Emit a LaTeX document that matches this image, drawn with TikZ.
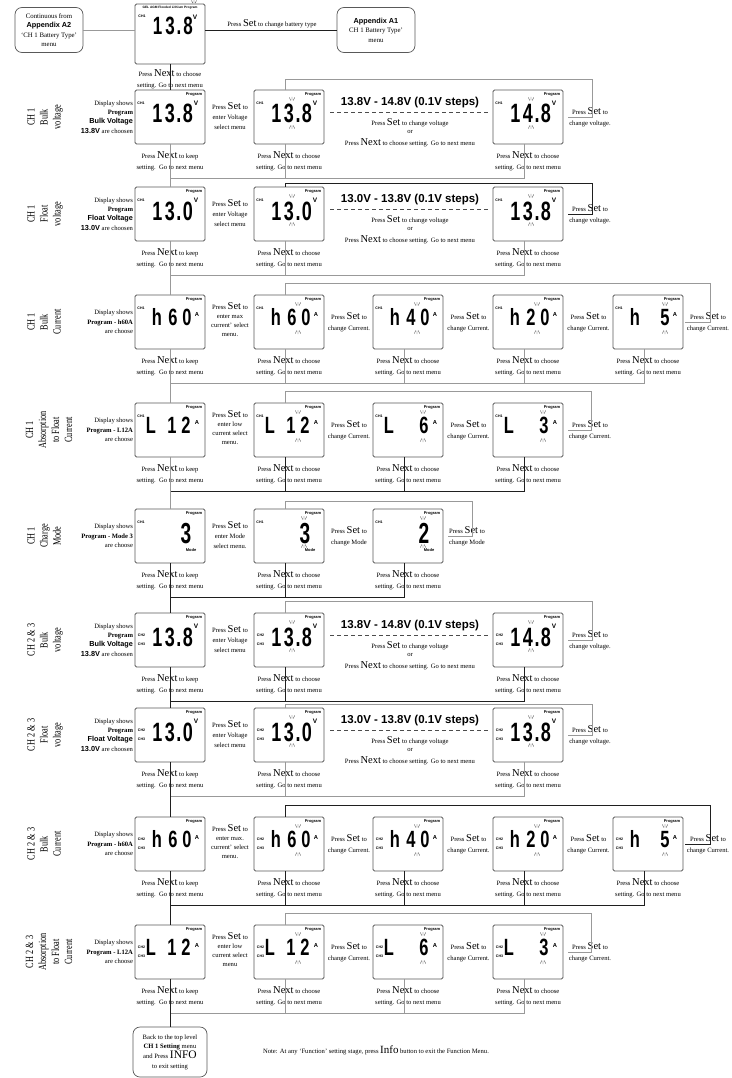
\documentclass[tikz,border=0pt]{standalone}
\usepackage{fontspec}
\usepackage{graphicx}
\setmainfont{Liberation Serif}
\newfontfamily\sansf{Liberation Sans}
\newcount\nodecnt
\newcommand\nn{\global\advance\nodecnt by 1\relax}
\newcommand\smf{\fontsize{6.6}{11}\selectfont}
\newcommand\bN{{\fontsize{10.5}{10}\selectfont Next}}
\newcommand\bS{{\fontsize{10.5}{10}\selectfont Set}}
\newcommand\sbb[1]{{\sansf\bfseries\fontsize{7.3}{9}\selectfont #1}}
\newcommand\choosetxt{Press \bN{} to choose\\setting. Go to next menu}
\newcommand\keeptxt{Press \bN{} to keep\\setting.\ \ Go to next menu}
\tikzset{
  lcd/.style={draw=black!65, line width=0.75pt, rounded corners=1.5pt, minimum width=70pt, minimum height=54pt, inner sep=0pt, outer sep=0pt},
  rbox/.style={draw=black!65, line width=0.7pt, rounded corners=7pt, inner sep=0pt, outer sep=0pt, align=center},
  tx/.style={inner sep=0pt, outer sep=0pt, align=center, font=\smf},
  tx3/.style={inner sep=0pt, outer sep=0pt, align=center, font=\fontsize{6.6}{10}\selectfont},
  tx4/.style={inner sep=0pt, outer sep=0pt, align=center, font=\fontsize{6.6}{9}\selectfont},
  desc/.style={inner sep=0pt, outer sep=0pt, align=right, anchor=east, font=\fontsize{6.6}{9.3}\selectfont},
  lbl/.style={inner sep=0pt, outer sep=0pt, rotate=90, font=\fontsize{11}{13}\selectfont},
  rng/.style={inner sep=0pt, outer sep=0pt, font=\sansf\bfseries\fontsize{11.5}{12}\selectfont},
  dg/.style={inner sep=0pt, outer sep=0pt, anchor=base},
  tiny/.style={inner sep=0pt, outer sep=0pt, font=\sansf\bfseries\fontsize{3.6}{4}\selectfont},
  unit/.style={inner sep=0pt, outer sep=0pt, font=\sansf\bfseries\fontsize{6.5}{6}\selectfont},
  mk/.style={line width=0.35pt, draw=black!80},
  cl/.style={line width=0.7pt},
  dsh/.style={draw=black!70, line width=0.6pt, dash pattern=on 4pt off 3pt},
}
% LCD helpers (local coordinates, origin = top-left of the box)
\newcommand\lcd[4]{\node[lcd] (#1) at (#2+35,#3+27) {};\begin{scope}[shift={(#2,#3)}]#4\end{scope}}
\newcommand\prog{\nn\node[tiny,font=\sansf\bfseries\fontsize{4}{4}\selectfont] (t\the\nodecnt) at (59,5) {Program};}
\newcommand\chone{\nn\node[tiny] (t\the\nodecnt) at (6,13) {CH1};}
\newcommand\chtt{\nn\node[tiny] (t\the\nodecnt) at (6.5,22) {CH2};\nn\node[tiny] (t\the\nodecnt) at (6.5,31) {CH3};}
\newcommand\vd[2]{\nn\node[dg,font=\sansf\bfseries\fontsize{26.5}{26.5}\selectfont] (t\the\nodecnt) at (#1,33) {\scalebox{0.68}[1]{#2}};}
\newcommand\cd[2]{\nn\node[dg,font=\sansf\bfseries\fontsize{23.5}{24}\selectfont] (t\the\nodecnt) at (#1,30) {\scalebox{0.7}[1]{#2}};}
\newcommand\md[2]{\nn\node[dg,font=\sansf\bfseries\fontsize{29}{29}\selectfont] (t\the\nodecnt) at (#1,34) {\scalebox{0.66}[1]{#2}};}
\newcommand\uV{\nn\node[unit] (t\the\nodecnt) at (61,13) {V};}
\newcommand\uA{\nn\node[unit,font=\sansf\bfseries\fontsize{5.8}{6}\selectfont] (t\the\nodecnt) at (62,20) {A};}
\newcommand\blink[1]{\draw[mk] (#1-2.6,7.5) -- (#1-1.3,10.5) (#1,7) -- (#1,10.5) (#1+2.6,7.5) -- (#1+1.3,10.5) (#1-2.6,38.5) -- (#1-1.3,35.5) (#1,39) -- (#1,35.5) (#1+2.6,38.5) -- (#1+1.3,35.5);}
\newcommand\boxV[7]{\lcd{#1}{#2}{#3}{\prog#4\vd{22.5}{1}\vd{35}{#5}\vd{44}{.}\vd{53}{#6}\uV#7}}
\newcommand\boxH[7]{\lcd{#1}{#2}{#3}{\prog#4\cd{22}{h}\cd{38}{#5}\cd{52}{#6}\uA#7}}
\newcommand\boxL[7]{\lcd{#1}{#2}{#3}{\prog#4\cd{16}{L}\cd{37}{#5}\cd{51}{#6}\uA#7}}
\newcommand\boxM[6]{\lcd{#1}{#2}{#3}{\prog#4\md{51}{#5}\nn\node[tiny,font=\sansf\bfseries\fontsize{4}{4}\selectfont] (t\the\nodecnt) at (56,41) {Mode};#6}}
% row pieces
\newcommand\RowHead{%
 \node[lbl] (\rwid l) at (\rwLX,\rwT+27) {\scalebox{0.75}[1]{\begin{tabular}{@{}c@{}}\rwlab\end{tabular}}};
 \node[desc] (\rwid d) at (133,\rwT+27) {\rwdsc};}
\newcommand\VoltRow{%
 \RowHead
 \boxV{\rwid b1}{135}{\rwT}{\rwch}{\rwda}{\rwdb}{}
 \node[tx3] (\rwid e) at (230,\rwT+26) {Press \bS{} to\\enter Voltage\\select menu};
 \boxV{\rwid b2}{254}{\rwT}{\rwch}{\rwda}{\rwdb}{\blink{38}}
 \node[rng] (\rwid r) at (410,\rwT+13) {\rwrng};
 \coordinate (\rwid dl) at (330,\rwT+22); \coordinate (\rwid dr) at (488,\rwT+22);
 \draw[dsh] (\rwid dl) -- (\rwid dr);
 \node[tx] (\rwid p) at (410,\rwT+33) {Press \bS{} to change voltage};
 \node[tx] (\rwid o) at (410,\rwT+42) {or};
 \node[tx] (\rwid q) at (410,\rwT+53) {Press \bN{} to choose setting. Go to next menu};
 \boxV{\rwid b4}{493}{\rwT}{\rwch}{\rwdc}{\rwdd}{\blink{38}}
 \node[tx] (\rwid s) at (590,\rwT+27) {Press \bS{} to\\change voltage.};
 \node[tx] (\rwid k1) at (170,\rwT+71) {\keeptxt};
 \node[tx] (\rwid k2) at (289,\rwT+71) {\choosetxt};
 \node[tx] (\rwid k4) at (528,\rwT+71) {\choosetxt};
 \coordinate (\rwid m) at (170,\rwT+88);
 \draw[cl,draw=\rwmc] ([xshift=-4pt]\rwid b4.south) |- (\rwid m);
 \draw[cl,draw=\rwmc] ([xshift=-4pt]\rwid b2.south) -- ([xshift=-4pt]\rwid b2.south |- \rwid m);
 \coordinate (\rwid la) at (568,\rwT+27); \coordinate (\rwid lb) at (592,\rwLY);
 \draw[cl,draw=\rwlc] (\rwid la) -| (\rwid lb) -| ([xshift=-4pt]\rwid b2.north);}
\newcommand\CurRow{%
 \RowHead
 \boxH{\rwid b1}{135}{\rwT}{\rwch}{6}{0}{}
 \node[tx4] (\rwid e) at (230,\rwT+25) {Press \bS{} to\\enter max\rwdot\\current' select\\menu.};
 \boxH{\rwid b2}{254}{\rwT}{\rwch}{6}{0}{\blink{44}}
 \node[tx] (\rwid s2) at (349,\rwT+27) {Press \bS{} to\\change Current.};
 \boxH{\rwid b3}{373}{\rwT}{\rwch}{4}{0}{\blink{44}}
 \node[tx] (\rwid s3) at (468.5,\rwT+27) {Press \bS{} to\\change Current.};
 \boxH{\rwid b4}{493}{\rwT}{\rwch}{2}{0}{\blink{44}}
 \node[tx] (\rwid s4) at (588.5,\rwT+27) {Press \bS{} to\\change Current.};
 \boxH{\rwid b5}{613}{\rwT}{\rwch}{}{5}{\blink{52}}
 \node[tx] (\rwid s5) at (708,\rwT+27) {Press \bS{} to\\change Current.};
 \node[tx] (\rwid k1) at (170,\rwT+71) {\keeptxt};
 \node[tx] (\rwid k2) at (289,\rwT+71) {\choosetxt};
 \node[tx] (\rwid k3) at (408,\rwT+71) {\choosetxt};
 \node[tx] (\rwid k4) at (528,\rwT+71) {\choosetxt};
 \node[tx] (\rwid k5) at (648,\rwT+71) {\choosetxt};
 \coordinate (\rwid m) at (170,\rwT+88);
 \draw[cl,draw=\rwmc] ([xshift=-4pt]\rwid b5.south) |- (\rwid m);
 \foreach \i in {2,3,4}{\draw[cl,draw=\rwmc] ([xshift=-4pt]\rwid b\i.south) -- ([xshift=-4pt]\rwid b\i.south |- \rwid m);}
 \coordinate (\rwid la) at (685,\rwT+27); \coordinate (\rwid lb) at (710,\rwLY);
 \draw[cl,draw=\rwlc] (\rwid la) -| (\rwid lb) -| ([xshift=-4pt]\rwid b2.north);}
\newcommand\LowRow{%
 \RowHead
 \boxL{\rwid b1}{135}{\rwT}{\rwch}{1}{2}{}
 \node[tx4] (\rwid e) at (230,\rwT+25) {Press \bS{} to\\enter low\\current select\\menu\rwdot};
 \boxL{\rwid b2}{254}{\rwT}{\rwch}{1}{2}{\blink{44}}
 \node[tx] (\rwid s2) at (349,\rwT+27) {Press \bS{} to\\change Current.};
 \boxL{\rwid b3}{373}{\rwT}{\rwch}{}{6}{\blink{50}}
 \node[tx] (\rwid s3) at (468.5,\rwT+27) {Press \bS{} to\\change Current.};
 \boxL{\rwid b4}{493}{\rwT}{\rwch}{}{3}{\blink{50}}
 \node[tx] (\rwid s4) at (590,\rwT+27) {Press \bS{} to\\change Current.};
 \node[tx] (\rwid k1) at (170,\rwT+71) {\keeptxt};
 \node[tx] (\rwid k2) at (289,\rwT+71) {\choosetxt};
 \node[tx] (\rwid k3) at (408,\rwT+71) {\choosetxt};
 \node[tx] (\rwid k4) at (528,\rwT+71) {\choosetxt};
 \coordinate (\rwid m) at (170,\rwT+88);
 \draw[cl,draw=\rwmc] ([xshift=-4pt]\rwid b4.south) |- (\rwid m);
 \foreach \i in {2,3}{\draw[cl,draw=\rwmc] ([xshift=-4pt]\rwid b\i.south) -- ([xshift=-4pt]\rwid b\i.south |- \rwid m);}
 \coordinate (\rwid la) at (568,\rwT+27); \coordinate (\rwid lb) at (591,\rwLY);
 \draw[cl,draw=\rwlc] (\rwid la) -| (\rwid lb) -| ([xshift=-4pt]\rwid b2.north);}
\def\G{black!40}
\def\K{black!88}
\begin{document}
\begin{tikzpicture}[x=1pt,y=-1pt]
\useasboundingbox (0,0) rectangle (731,1078);
\fill[white] (0,0) rectangle (731,1078);
% ---------- top ----------
\node[rbox, minimum width=68pt, minimum height=45pt, font=\fontsize{6.8}{9.5}\selectfont] (a2) at (49,30) {Continuous from\\\sbb{Appendix A2}\\`CH 1 Battery Type'\\menu};
\node[lcd, minimum height=60pt] (top) at (170,34) {};
\begin{scope}[shift={(135,4)}]
 \nn\node[tiny,font=\sansf\bfseries\fontsize{3.2}{3.2}\selectfont] (t\the\nodecnt) at (35,3.5) {GEL AGM Flooded Lithium Program};
 \nn\node[tiny] (t\the\nodecnt) at (7,12) {CH1};
 \nn\node[dg,font=\sansf\bfseries\fontsize{25}{25}\selectfont] (t\the\nodecnt) at (22.5,31) {\scalebox{0.68}[1]{1}};
 \nn\node[dg,font=\sansf\bfseries\fontsize{25}{25}\selectfont] (t\the\nodecnt) at (35,31) {\scalebox{0.68}[1]{3}};
 \nn\node[dg,font=\sansf\bfseries\fontsize{25}{25}\selectfont] (t\the\nodecnt) at (44,31) {\scalebox{0.68}[1]{.}};
 \nn\node[dg,font=\sansf\bfseries\fontsize{25}{25}\selectfont] (t\the\nodecnt) at (53,31) {\scalebox{0.68}[1]{8}};
 \nn\node[unit] (t\the\nodecnt) at (60,13) {V};
 \draw[mk] (56.5,-3.5) -- (57.8,-0.8) (59,-4) -- (59,-0.8) (61.5,-3.5) -- (60.2,-0.8);
\end{scope}
\node[rbox, minimum width=78pt, minimum height=45pt, font=\fontsize{6.8}{9.5}\selectfont] (a1) at (376,30) {\sbb{Appendix A1}\\CH 1 Battery Type'\\menu};
\node[tx] (bt) at (272,24) {Press \bS{} to change battery type};
\draw[cl,draw=\G] (a2.east) -- (a2.east -| top.west);
\draw[cl,draw=\K] (a1.west -| top.east) -- (a1.west);
\node[tx] (t0k) at (170,79) {\choosetxt};
% ---------- row 1 ----------
\def\rwid{r1}\def\rwT{90}\def\rwLX{45}\def\rwch{\chone}
\def\rwlab{CH 1\\Bulk\\voltage}
\def\rwdsc{Display shows\\\textbf{Program}\\\sbb{Bulk Voltage}\\\sbb{13.8V} are choosen}
\def\rwda{3}\def\rwdb{8}\def\rwdc{4}\def\rwdd{8}
\def\rwrng{13.8V - 14.8V (0.1V steps)}
\def\rwLY{79}\def\rwlc{\G}\def\rwmc{\G}
\VoltRow
% ---------- row 2 ----------
\def\rwid{r2}\def\rwT{187}
\def\rwlab{CH 1\\Float\\voltage}
\def\rwdsc{Display shows\\\textbf{Program}\\\sbb{Float Voltage}\\\sbb{13.0V} are choosen}
\def\rwda{3}\def\rwdb{0}\def\rwdc{3}\def\rwdd{8}
\def\rwrng{13.0V - 13.8V (0.1V steps)}
\def\rwLY{183}\def\rwlc{\K}\def\rwmc{\G}
\VoltRow
% ---------- row 3 ----------
\def\rwid{r3}\def\rwT{295}
\def\rwlab{CH 1\\Bulk\\Current}
\def\rwdsc{Display shows\\\textbf{Program - h60A}\\are choose}
\def\rwdot{}
\def\rwLY{283}\def\rwlc{\G}\def\rwmc{\G}
\CurRow
% ---------- row 4 ----------
\def\rwid{r4}\def\rwT{403}\def\rwLX{50}
\def\rwlab{CH 1\\Absorption\\to Float\\Current}
\def\rwdsc{Display shows\\\textbf{Program - L12A}\\are choose}
\def\rwdot{.}
\def\rwLY{391}\def\rwlc{\G}\def\rwmc{\K}
\LowRow
% ---------- row 5 (charge mode) ----------
\node[lbl] (r5l) at (45,536) {\scalebox{0.75}[1]{\begin{tabular}{@{}c@{}}CH 1\\Charge\\Mode\end{tabular}}};
\node[desc] (r5d) at (133,536) {Display shows\\\textbf{Program - Mode 3}\\are choose};
\boxM{r5b1}{135}{509}{\chone}{3}{}
\node[tx3] (r5e) at (230,535) {Press \bS{} to\\enter Mode\\select menu.};
\boxM{r5b2}{254}{509}{\chone}{3}{\blink{50}}
\node[tx] (r5s2) at (349,536) {Press \bS{} to\\change Mode};
\boxM{r5b3}{373}{509}{\chone}{2}{\blink{50}}
\node[tx] (r5s3) at (467,536) {Press \bS{} to\\change Mode};
\node[tx] (r5k1) at (170,580) {\keeptxt};
\node[tx] (r5k2) at (289,580) {\choosetxt};
\node[tx] (r5k3) at (408,580) {\choosetxt};
\coordinate (r5m) at (170,597);
\draw[cl,draw=\K] ([xshift=-4pt]r5b3.south) |- (r5m);
\draw[cl,draw=\K] ([xshift=-4pt]r5b2.south) -- ([xshift=-4pt]r5b2.south |- r5m);
\coordinate (r5la) at (448,536); \coordinate (r5lb) at (472,501);
\draw[cl,draw=\G] (r5la) -| (r5lb) -| ([xshift=-4pt]r5b2.north);
% ---------- row 6 ----------
\def\rwid{r6}\def\rwT{613}\def\rwLX{45}\def\rwch{\chtt}
\def\rwlab{CH 2 \& 3\\Bulk\\voltage}
\def\rwdsc{Display shows\\\textbf{Program}\\\sbb{Bulk Voltage}\\\sbb{13.8V} are choosen}
\def\rwda{3}\def\rwdb{8}\def\rwdc{4}\def\rwdd{8}
\def\rwrng{13.8V - 14.8V (0.1V steps)}
\def\rwLY{601}\def\rwlc{\G}\def\rwmc{\K}
\VoltRow
% ---------- row 7 ----------
\def\rwid{r7}\def\rwT{708}
\def\rwlab{CH 2 \& 3\\Float\\voltage}
\def\rwdsc{Display shows\\\textbf{Program}\\\sbb{Float Voltage}\\\sbb{13.0V} are choosen}
\def\rwda{3}\def\rwdb{0}\def\rwdc{3}\def\rwdd{8}
\def\rwrng{13.0V - 13.8V (0.1V steps)}
\def\rwLY{704}\def\rwlc{\G}\def\rwmc{\G}
\VoltRow
% ---------- row 8 ----------
\def\rwid{r8}\def\rwT{817}
\def\rwlab{CH 2 \& 3\\Bulk\\Current}
\def\rwdsc{Display shows\\\textbf{Program - h60A}\\are choose}
\def\rwdot{.}
\def\rwLY{805}\def\rwlc{\K}\def\rwmc{\K}
\CurRow
% ---------- row 9 ----------
\def\rwid{r9}\def\rwT{925}\def\rwLX{50}
\def\rwlab{CH 2 \& 3\\Absorption\\to Float\\Current}
\def\rwdsc{Display shows\\\textbf{Program - L12A}\\are choose}
\def\rwdot{}
\def\rwLY{913}\def\rwlc{\G}\def\rwmc{\G}
\LowRow
% ---------- bottom ----------
\node[rbox, minimum width=74pt, minimum height=50pt, font=\fontsize{6.6}{9.7}\selectfont] (back) at (170,1052) {Back to the top level\\\textbf{CH 1 Setting} menu\\and Press {\fontsize{11.5}{11}\selectfont INFO}\\to exit setting};
\node[tx] (note) at (376,1050) {Note: At any `Function' setting stage, press {\fontsize{11}{11}\selectfont Info} button to exit the Function Menu.};
% ---------- spine ----------
\draw[cl,draw=\K] (top.south) -- (r1b1.north);
\draw[cl,draw=\G] (r1b1.south) -- (r2b1.north);
\draw[cl,draw=\G] (r2b1.south) -- (r3b1.north);
\draw[cl,draw=\G] (r3b1.south) -- (r4b1.north);
\draw[cl,draw=\G] (r4b1.south) -- (r5b1.north);
\draw[cl,draw=\K] (r5b1.south) -- (r6b1.north);
\draw[cl,draw=\K] (r6b1.south) -- (r7b1.north);
\draw[cl,draw=\K] (r7b1.south) -- (r8b1.north);
\draw[cl,draw=\K] (r8b1.south) -- (r9b1.north);
\draw[cl,draw=\K] (r9b1.south) -- (back.north);
\end{tikzpicture}
\end{document}
